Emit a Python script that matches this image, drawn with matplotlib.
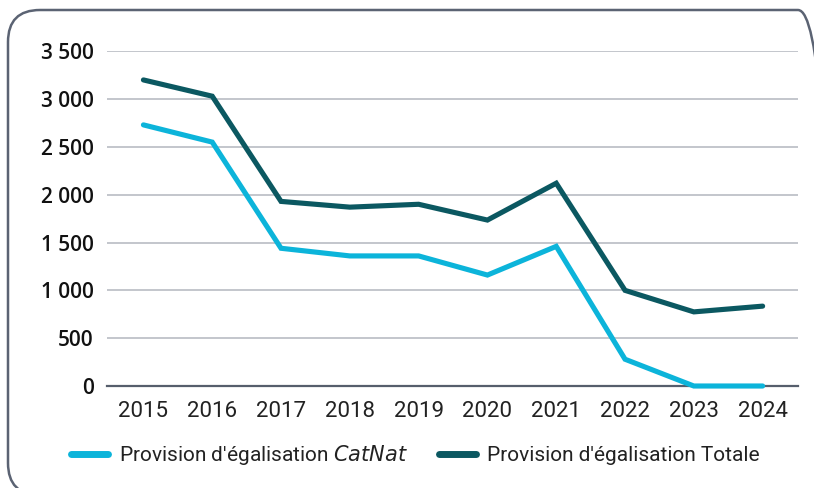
import matplotlib.pyplot as plt
from matplotlib.patches import FancyBboxPatch
from matplotlib.transforms import IdentityTransform
from matplotlib.ticker import FuncFormatter, MultipleLocator

years = ['2015', '2016', '2017', '2018', '2019', '2020', '2021', '2022', '2023', '2024']
catnat = [2730, 2550, 1440, 1360, 1360, 1160, 1460, 280, 0, 0]
totale = [3200, 3030, 1930, 1870, 1900, 1735, 2120, 1000, 775, 835]

c_cat = '#0cb4da'
c_tot = '#0b5861'

fig = plt.figure(figsize=(8.14, 4.88), dpi=100)
ax = fig.add_axes([0.132, 0.209, 0.848, 0.686])

x = range(len(years))
ax.plot(x, catnat, color=c_cat, lw=3.7, solid_capstyle='round', solid_joinstyle='miter',
        label="Provision d'égalisation $\\it{CatNat}$", zorder=3, clip_on=False)
ax.plot(x, totale, color=c_tot, lw=3.7, solid_capstyle='round', solid_joinstyle='miter',
        label="Provision d'égalisation Totale", zorder=3, clip_on=False)

ax.set_ylim(0, 3500)
ax.set_xlim(-0.523, 9.51)
ax.yaxis.set_major_locator(MultipleLocator(500))
ax.yaxis.set_major_formatter(FuncFormatter(lambda v, p: f'{int(v):,}'.replace(',', ' ')))
ax.set_xticks(list(x))
ax.set_xticklabels(years)

for s in ['top', 'right', 'left']:
    ax.spines[s].set_visible(False)
ax.spines['bottom'].set_color('#565e6c')
ax.spines['bottom'].set_linewidth(1.6)
ax.grid(axis='y', color='#b9bcc4', lw=1.2)
ax.set_axisbelow(True)
ax.tick_params(length=0)
ax.tick_params(axis='y', pad=10)
ax.tick_params(axis='x', pad=11)
for t in ax.get_yticklabels():
    t.set_fontfamily('Open Sans')
    t.set_fontsize(15)
    t.set_fontweight('semibold')
    t.set_color('#111111')
for t in ax.get_xticklabels():
    t.set_fontfamily('Roboto')
    t.set_fontsize(16)
    t.set_color('#222222')

leg = fig.legend(loc='center', bbox_to_anchor=(0.51, 0.068), ncol=2, frameon=False,
                 prop={'family': 'Roboto', 'size': 15}, handlelength=1.8, columnspacing=1.5,
                 handletextpad=0.5, labelcolor='#222222')
for h in leg.legend_handles:
    h.set_linewidth(5)
    h.set_solid_capstyle('round')

# rounded frame, partly running off the right and bottom edges
border = FancyBboxPatch((8, -7), 822, 485, boxstyle='round,pad=0,rounding_size=32',
                        transform=IdentityTransform(), fill=False, edgecolor='#5b6373', lw=1.8)
fig.patches.append(border)

fig.savefig('out.png', dpi=100)
